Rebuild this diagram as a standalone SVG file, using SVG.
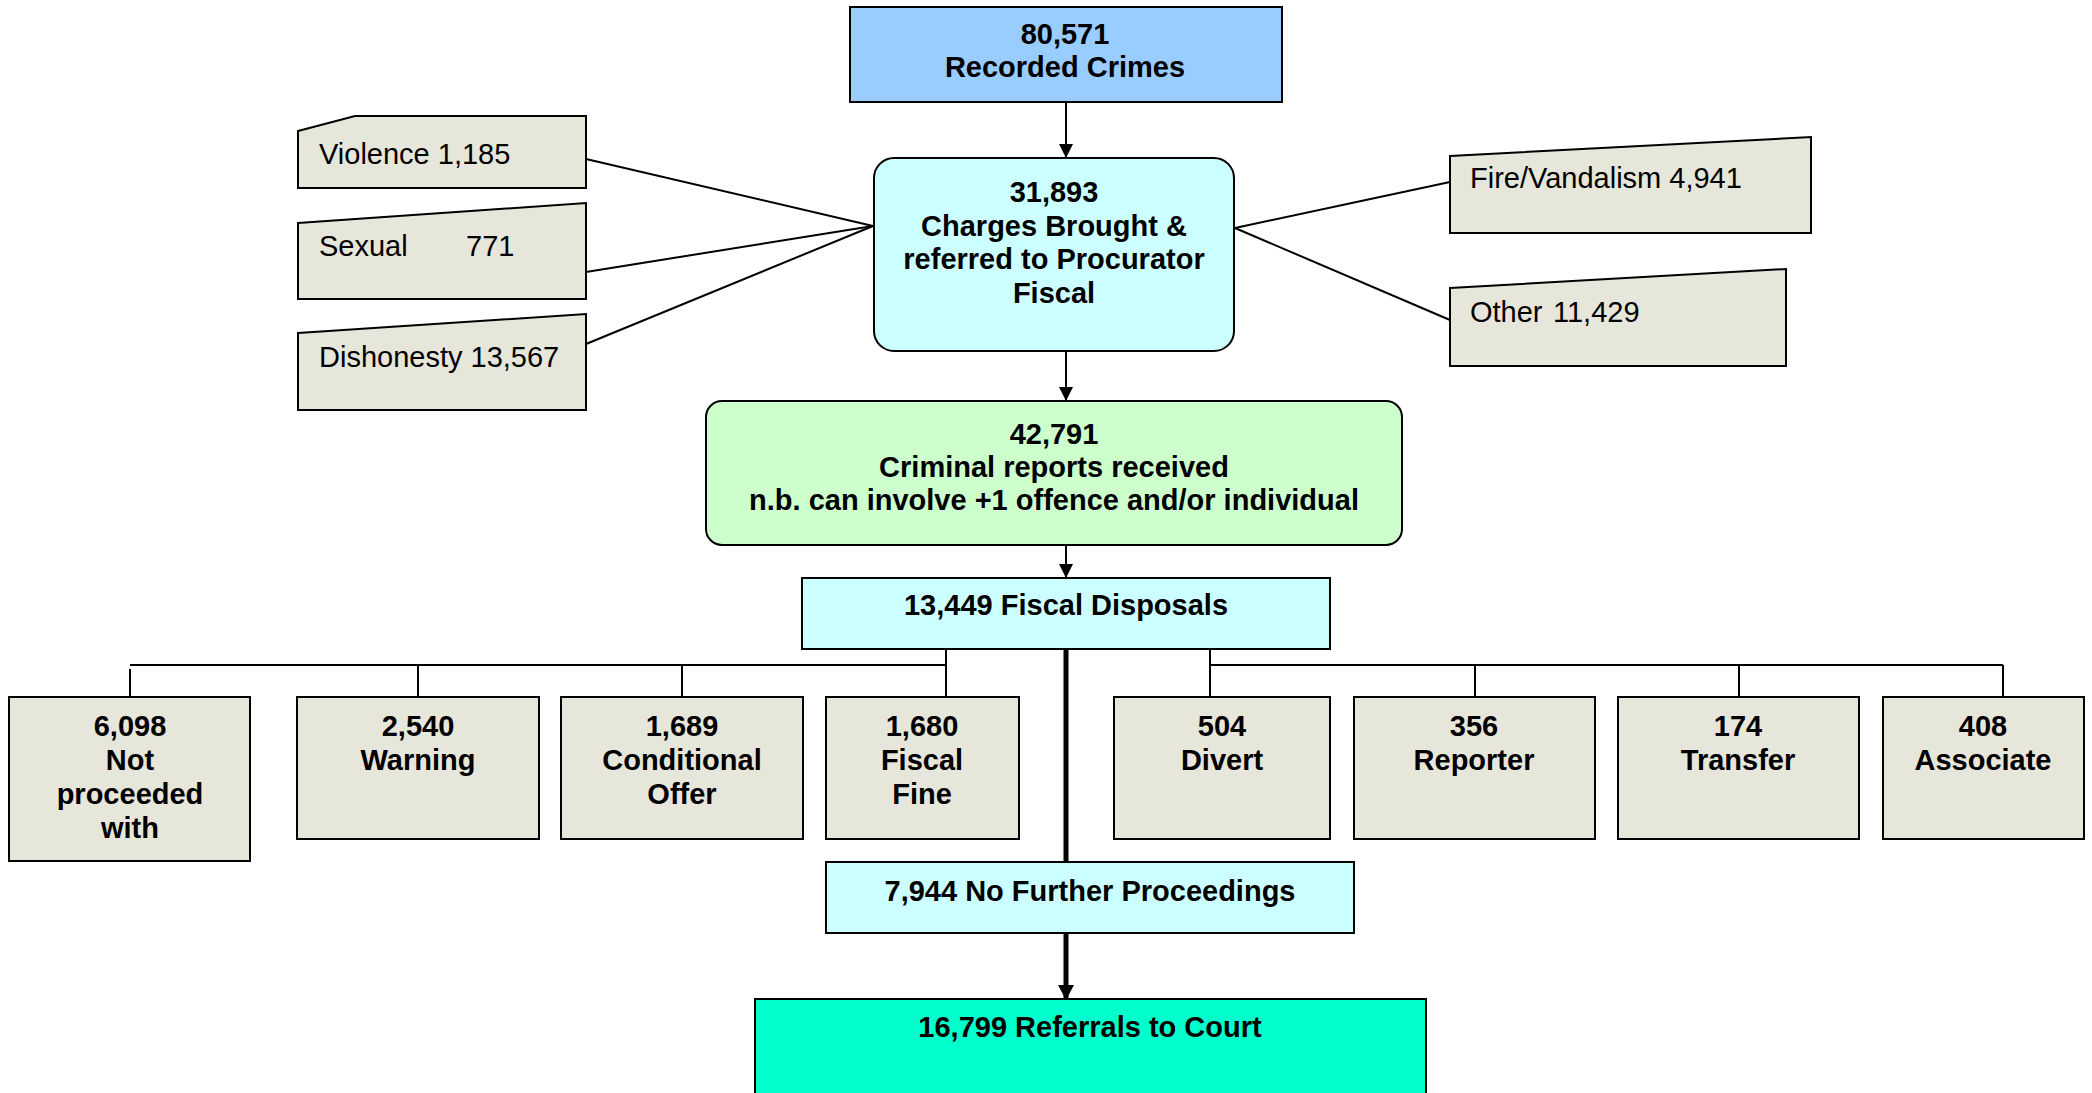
<svg xmlns="http://www.w3.org/2000/svg" width="2092" height="1093" viewBox="0 0 2092 1093">
<style>
text{font-family:"Liberation Sans",Arial,sans-serif;font-size:29px;fill:#000}
.b{font-weight:bold;text-anchor:middle}
.r{font-weight:normal}
.gray{fill:#E6E6DA;stroke:#000;stroke-width:2}
.cyan{fill:#CCFFFF;stroke:#000;stroke-width:2}
.con{stroke:#000;stroke-width:2;fill:none}
.thick{stroke:#000;stroke-width:5;fill:none}
</style>
<defs>
<marker id="ah" markerUnits="userSpaceOnUse" markerWidth="14" markerHeight="16" refX="14" refY="7" orient="auto">
<path d="M0,0 L14,7 L0,14 Z" fill="#000"/>
</marker>
<marker id="ahT" markerUnits="userSpaceOnUse" markerWidth="16" markerHeight="18" refX="15" refY="8" orient="auto">
<path d="M0,0 L15,8 L0,16 Z" fill="#000"/>
</marker>
</defs>
<rect width="2092" height="1093" fill="#fff"/>

<g id="connectors">
<line class="con" x1="1066" y1="101" x2="1066" y2="158" marker-end="url(#ah)"/>
<line class="con" x1="1066" y1="334" x2="1066" y2="401" marker-end="url(#ah)"/>
<line class="con" x1="1066" y1="533" x2="1066" y2="578" marker-end="url(#ah)"/>
<line class="con" x1="586" y1="159" x2="873" y2="226"/>
<line class="con" x1="586" y1="272" x2="873" y2="226"/>
<line class="con" x1="586" y1="344" x2="873" y2="226"/>
<line class="con" x1="1235" y1="228" x2="1450" y2="182"/>
<line class="con" x1="1235" y1="228" x2="1450" y2="320"/>
<line class="con" x1="130" y1="665" x2="946" y2="665"/>
<line class="con" x1="946" y1="643" x2="946" y2="698"/>
<line class="con" x1="130" y1="669" x2="130" y2="698"/>
<line class="con" x1="418" y1="665" x2="418" y2="698"/>
<line class="con" x1="682" y1="665" x2="682" y2="698"/>
<line class="con" x1="1210" y1="665" x2="2003" y2="665"/>
<line class="con" x1="1210" y1="643" x2="1210" y2="698"/>
<line class="con" x1="1475" y1="665" x2="1475" y2="698"/>
<line class="con" x1="1739" y1="665" x2="1739" y2="698"/>
<line class="con" x1="2003" y1="665" x2="2003" y2="698"/>
<line class="thick" x1="1066" y1="644" x2="1066" y2="862"/>
<line class="thick" x1="1066" y1="930" x2="1066" y2="1000" marker-end="url(#ahT)"/>
</g>

<g id="recorded">
<rect x="850" y="7" width="432" height="95" fill="#99CCFF" stroke="#000" stroke-width="2"/>
<text class="b" x="1065" y="44">80,571</text>
<text class="b" x="1065" y="77">Recorded Crimes</text>
</g>

<g id="charges">
<rect x="874" y="158" width="360" height="193" rx="20" class="cyan"/>
<text class="b" x="1054" y="202">31,893</text>
<text class="b" x="1054" y="236">Charges Brought &amp;</text>
<text class="b" x="1054" y="269">referred to Procurator</text>
<text class="b" x="1054" y="303">Fiscal</text>
</g>

<g id="violence">
<polygon class="gray" points="298,131 355,116 586,116 586,188 298,188"/>
<text class="r" x="319" y="164">Violence 1,185</text>
</g>
<g id="sexual">
<polygon class="gray" points="298,223 586,203 586,299 298,299"/>
<text class="r" x="319" y="256">Sexual<tspan x="466">771</tspan></text>
</g>
<g id="dishonesty">
<polygon class="gray" points="298,333 586,314 586,410 298,410"/>
<text class="r" x="319" y="367">Dishonesty 13,567</text>
</g>
<g id="fire">
<polygon class="gray" points="1450,156 1811,137 1811,233 1450,233"/>
<text class="r" x="1470" y="188">Fire/Vandalism 4,941</text>
</g>
<g id="other">
<polygon class="gray" points="1450,288 1786,269 1786,366 1450,366"/>
<text class="r" x="1470" y="322">Other<tspan x="1553">11,429</tspan></text>
</g>

<g id="reports">
<rect x="706" y="401" width="696" height="144" rx="16" fill="#CCFFCC" stroke="#000" stroke-width="2"/>
<text class="b" x="1054" y="444">42,791</text>
<text class="b" x="1054" y="477">Criminal reports received</text>
<text class="b" x="1054" y="510">n.b. can involve +1 offence and/or individual</text>
</g>

<g id="disposals">
<rect x="802" y="578" width="528" height="71" class="cyan"/>
<text class="b" x="1066" y="615">13,449 Fiscal Disposals</text>
</g>

<g id="notproceeded">
<rect x="9" y="697" width="241" height="164" class="gray"/>
<text class="b" x="130" y="736">6,098</text>
<text class="b" x="130" y="770">Not</text>
<text class="b" x="130" y="804">proceeded</text>
<text class="b" x="130" y="838">with</text>
</g>
<g id="warning">
<rect x="297" y="697" width="242" height="142" class="gray"/>
<text class="b" x="418" y="736">2,540</text>
<text class="b" x="418" y="770">Warning</text>
</g>
<g id="conditional">
<rect x="561" y="697" width="242" height="142" class="gray"/>
<text class="b" x="682" y="736">1,689</text>
<text class="b" x="682" y="770">Conditional</text>
<text class="b" x="682" y="804">Offer</text>
</g>
<g id="fine">
<rect x="826" y="697" width="193" height="142" class="gray"/>
<text class="b" x="922" y="736">1,680</text>
<text class="b" x="922" y="770">Fiscal</text>
<text class="b" x="922" y="804">Fine</text>
</g>
<g id="divert">
<rect x="1114" y="697" width="216" height="142" class="gray"/>
<text class="b" x="1222" y="736">504</text>
<text class="b" x="1222" y="770">Divert</text>
</g>
<g id="reporter">
<rect x="1354" y="697" width="241" height="142" class="gray"/>
<text class="b" x="1474" y="736">356</text>
<text class="b" x="1474" y="770">Reporter</text>
</g>
<g id="transfer">
<rect x="1618" y="697" width="241" height="142" class="gray"/>
<text class="b" x="1738" y="736">174</text>
<text class="b" x="1738" y="770">Transfer</text>
</g>
<g id="associate">
<rect x="1883" y="697" width="201" height="142" class="gray"/>
<text class="b" x="1983" y="736">408</text>
<text class="b" x="1983" y="770">Associate</text>
</g>

<g id="nfp">
<rect x="826" y="862" width="528" height="71" class="cyan"/>
<text class="b" x="1090" y="901">7,944 No Further Proceedings</text>
</g>

<g id="court">
<rect x="755" y="999" width="671" height="110" fill="#00FFCC" stroke="#000" stroke-width="2"/>
<text class="b" x="1090" y="1037">16,799 Referrals to Court</text>
</g>
</svg>
